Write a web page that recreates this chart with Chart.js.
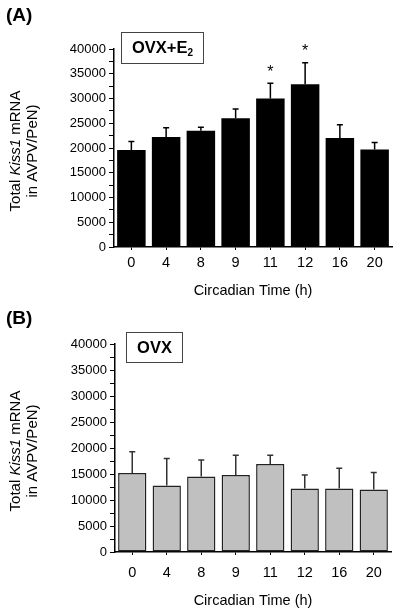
<!DOCTYPE html>
<html>
<head>
<meta charset="utf-8">
<script src="https://cdn.jsdelivr.net/npm/chart.js@4/dist/chart.umd.min.js"></script>
<style>
  html, body { margin: 0; padding: 0; background: #fff; }
  #wrap { position: relative; width: 400px; height: 616px; }
  .panel { position: absolute; left: 0; width: 400px; }
</style>
</head>
<body>
<div id="wrap">
  <div class="panel" style="top:0;height:300px"><canvas id="chartA" width="400" height="300"></canvas></div>
  <div class="panel" style="top:300px;height:316px"><canvas id="chartB" width="400" height="316"></canvas></div>
</div>
<script>
// circadian time points (h)
const times = ['0', '4', '8', '9', '11', '12', '16', '20'];

// (A) OVX+E2 : mean and SEM
const e2Mean = [19600, 22200, 23500, 26000, 30000, 32900, 22000, 19700];
const e2Sem = [1700, 1900, 700, 1900, 3100, 4300, 2700, 1400];
const e2Signif = [false, false, false, false, true, true, false, false];

// (B) OVX : mean and SEM
const ovxMean = [15200, 12800, 14500, 14800, 16900, 12200, 12200, 12000];
const ovxSem = [4100, 5200, 3200, 3800, 1700, 2600, 3900, 3300];
const ovxSignif = [false, false, false, false, false, false, false, false];

const yMin = 0, yMax = 40000, yStep = 2500, yLabelStep = 5000;

const FONT = '"Liberation Sans", Arial, Helvetica, sans-serif';

const errorBars = {
    id: 'errorBars',
    afterDatasetsDraw(chart, args, opts) {
        const ctx = chart.ctx;
        const meta = chart.getDatasetMeta(0);
        const y = chart.scales.y;
        const ds = chart.data.datasets[0];
        ctx.save();
        ctx.strokeStyle = opts.color;
        ctx.lineWidth = 1.5;
        meta.data.forEach((bar, i) => {
            const top = y.getPixelForValue(ds.data[i] + opts.sem[i]);
            ctx.beginPath();
            ctx.moveTo(bar.x, bar.y);
            ctx.lineTo(bar.x, top);
            ctx.moveTo(bar.x - 3, top);
            ctx.lineTo(bar.x + 3, top);
            ctx.stroke();
            if (opts.signif[i]) {
                ctx.fillStyle = '#000';
                ctx.font = '16px ' + FONT;
                ctx.textAlign = 'center';
                ctx.textBaseline = 'middle';
                ctx.fillText('*', bar.x, top - 11);
            }
        });
        ctx.restore();
    }
};

// rotated y title with italic gene name, panel letter and group box
const decor = {
    id: 'decor',
    afterDraw(chart, args, opts) {
        const ctx = chart.ctx;
        const area = chart.chartArea;
        const cy = (area.top + area.bottom) / 2 + 3;
        const lines = [
            [['Total ', ''], ['Kiss1', 'italic '], [' mRNA', '']],
            [['in AVPV/PeN)', '']]
        ];
        const xs = [16, 33];
        ctx.save();
        ctx.fillStyle = '#000';
        ctx.textBaseline = 'middle';
        ctx.textAlign = 'left';
        lines.forEach((segs, li) => {
            let w = 0;
            segs.forEach(s => { ctx.font = s[1] + '15px ' + FONT; w += ctx.measureText(s[0]).width; });
            ctx.save();
            ctx.translate(xs[li], cy);
            ctx.rotate(-Math.PI / 2);
            let x = -w / 2;
            segs.forEach(s => {
                ctx.font = s[1] + '15px ' + FONT;
                ctx.fillText(s[0], x, 0);
                x += ctx.measureText(s[0]).width;
            });
            ctx.restore();
        });

        // panel letter
        ctx.font = 'bold 19px ' + FONT;
        ctx.textBaseline = 'middle';
        ctx.fillText(opts.letter, 6, opts.letterY);

        // group box
        const b = opts.box;
        ctx.strokeStyle = '#444';
        ctx.lineWidth = 1;
        ctx.strokeRect(b.x + 0.5, b.y + 0.5, b.w, b.h);
        ctx.font = 'bold 16.5px ' + FONT;
        const mainW = ctx.measureText(opts.group).width;
        ctx.font = 'bold 10px ' + FONT;
        const subW = opts.sub ? ctx.measureText(opts.sub).width : 0;
        let tx = b.x + b.w / 2 - (mainW + subW) / 2 + 0.5;
        const ty = b.y + b.h / 2 + 1;
        ctx.font = 'bold 16.5px ' + FONT;
        ctx.fillText(opts.group, tx, ty);
        if (opts.sub) {
            ctx.font = 'bold 10px ' + FONT;
            ctx.fillText(opts.sub, tx + mainW, ty + 5);
        }
        ctx.restore();
    }
};

function makePanel(id, p) {
    return new Chart(document.getElementById(id), {
        type: 'bar',
        data: {
            labels: times,
            datasets: [{
                data: p.mean,
                backgroundColor: p.fill,
                borderColor: p.border,
                borderWidth: p.borderWidth,
                borderSkipped: false,
                barPercentage: 0.82,
                categoryPercentage: 1
            }]
        },
        options: {
            responsive: false,
            animation: false,
            events: [],
            layout: { padding: { top: p.top, right: p.right, left: 0, bottom: 0 } },
            plugins: {
                legend: { display: false },
                tooltip: { enabled: false },
                errorBars: { sem: p.sem, signif: p.signif, color: p.errColor },
                decor: { letter: p.letter, letterY: p.letterY, box: p.box, group: p.group, sub: p.sub }
            },
            scales: {
                x: {
                    offset: true,
                    grid: { offset: false, drawOnChartArea: false, tickLength: 3, tickColor: '#000', tickWidth: 1 },
                    border: { color: '#000', width: 1.5 },
                    ticks: { color: '#000', font: { family: FONT, size: 14.5 }, padding: p.xPad, maxRotation: 0, autoSkip: false },
                    title: {
                        display: true, text: 'Circadian Time (h)', color: '#000',
                        font: { family: FONT, size: 14.5 }, padding: { top: 0, bottom: p.titlePad }
                    },
                    afterFit(s) { s.height = p.xHeight; }
                },
                y: {
                    min: yMin, max: yMax,
                    grid: { drawOnChartArea: false, tickLength: 5, tickColor: '#000', tickWidth: 1 },
                    border: { color: '#000', width: 1.5 },
                    ticks: {
                        stepSize: yStep, autoSkip: false, color: '#000', padding: 3,
                        font: { family: FONT, size: 13 },
                        callback: v => (v % yLabelStep === 0 ? v : '')
                    },
                    afterFit(s) { s.width = p.yWidth; }
                }
            }
        },
        plugins: [errorBars, decor]
    });
}

makePanel('chartA', {
    mean: e2Mean, sem: e2Sem, signif: e2Signif,
    fill: '#000', border: '#000', borderWidth: 0, errColor: '#000',
    top: 49, right: 8, yWidth: 114, xHeight: 53, xPad: 4, titlePad: 0,
    letter: '(A)', letterY: 16,
    box: { x: 121, y: 32, w: 82, h: 31 }, group: 'OVX+E', sub: '2'
});

makePanel('chartB', {
    mean: ovxMean, sem: ovxSem, signif: ovxSignif,
    fill: '#c0c0c0', border: '#222', borderWidth: 1.5, errColor: '#333',
    top: 44, right: 9, yWidth: 115, xHeight: 64, xPad: 9, titlePad: 6,
    letter: '(B)', letterY: 19,
    box: { x: 126, y: 32, w: 56, h: 30 }, group: 'OVX', sub: ''
});
</script>
</body>
</html>
